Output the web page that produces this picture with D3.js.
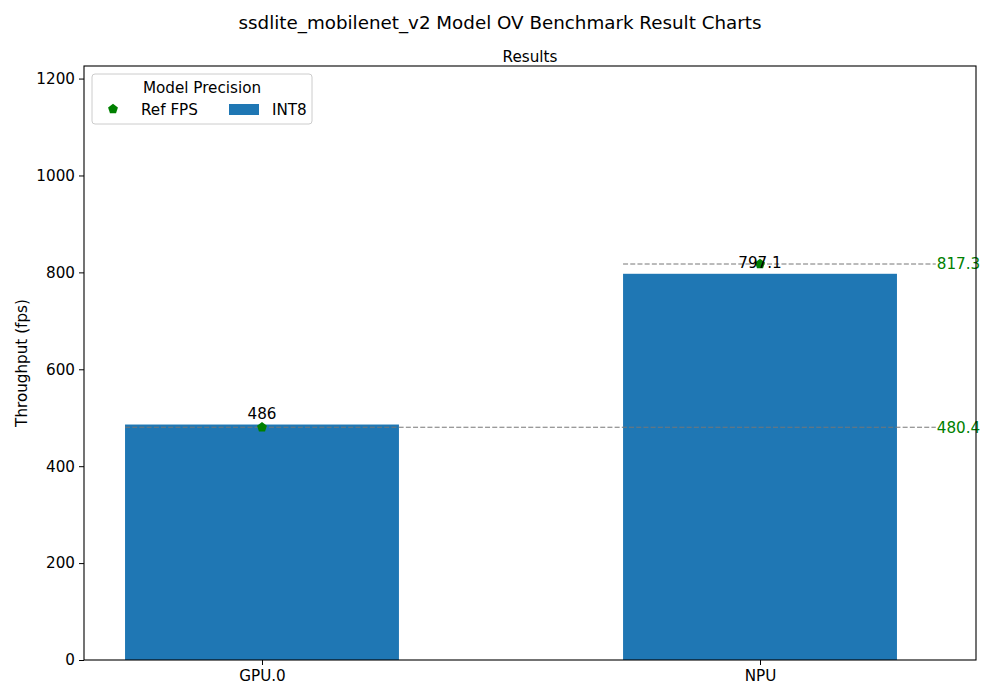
<!DOCTYPE html>
<html>
<head>
<meta charset="utf-8">
<script src="https://cdn.jsdelivr.net/npm/d3@7"></script>
<style>
  body { margin: 0; background: #fff; }
  svg text { font-family: "DejaVu Sans", sans-serif; }
</style>
</head>
<body>
<div class="chart"></div>
<script>
// data
const devices = ['GPU.0', 'NPU'];
const int8Values = [486, 797.1];
const refFps = [480.4, 817.3];
const yTicks = [0, 200, 400, 600, 800, 1000, 1200];

const W = 1000, H = 700;
const margin = ({top: 66, right: 24, bottom: 40, left: 84});
const width = W - margin.left - margin.right;
const height = H - margin.top - margin.bottom;
const fs = '15.2px';

const svg = d3.select('.chart').append('svg')
  .attr('width', W)
  .attr('height', H);

svg.append('text')
  .attr('x', W / 2)
  .attr('y', 29)
  .attr('text-anchor', 'middle')
  .attr('font-size', '18.3px')
  .text('ssdlite_mobilenet_v2 Model OV Benchmark Result Charts');

const g = svg.append('g')
  .attr('transform', `translate(${margin.left},${margin.top})`);

g.append('text')
  .attr('x', width / 2)
  .attr('y', -4)
  .attr('text-anchor', 'middle')
  .attr('font-size', fs)
  .text('Results');

// category positions 0,1 on a linear scale, like matplotlib
const xScale = d3.scaleLinear()
  .domain([-0.3574, 1.4337])
  .range([0, width]);

const yScale = d3.scaleLinear()
  .domain([0, d3.max(refFps) * 1.5])
  .range([height, 0]);

const barW = 0.55;

g.selectAll('.bar')
  .data(int8Values)
  .enter()
  .append('rect')
  .attr('class', 'bar')
  .attr('x', (d, i) => xScale(i - barW / 2))
  .attr('width', xScale(barW) - xScale(0))
  .attr('y', d => yScale(d))
  .attr('height', d => yScale(0) - yScale(d))
  .attr('fill', '#1f77b4');

// reference lines
const lineEnd = 1.353;
g.selectAll('.ref-line')
  .data(refFps)
  .enter()
  .append('line')
  .attr('class', 'ref-line')
  .attr('x1', (d, i) => xScale(i - barW / 2))
  .attr('x2', xScale(lineEnd))
  .attr('y1', d => yScale(d))
  .attr('y2', d => yScale(d))
  .attr('stroke', '#777')
  .attr('stroke-width', 1)
  .attr('stroke-dasharray', '5,2.2');

// pentagon markers
const pentagon = d3.symbol().type(d3.symbolPentagon || {
  draw(ctx, size) {
    const r = Math.sqrt(size / 1.72);
    for (let k = 0; k < 5; k++) {
      const a = -Math.PI / 2 + k * 2 * Math.PI / 5;
      k ? ctx.lineTo(r * Math.cos(a), r * Math.sin(a)) : ctx.moveTo(r * Math.cos(a), r * Math.sin(a));
    }
    ctx.closePath();
  }
}).size(46);

g.selectAll('.ref-marker')
  .data(refFps)
  .enter()
  .append('path')
  .attr('class', 'ref-marker')
  .attr('d', pentagon)
  .attr('transform', (d, i) => `translate(${xScale(i)},${yScale(d)})`)
  .attr('fill', 'green');

g.selectAll('.ref-label')
  .data(refFps)
  .enter()
  .append('text')
  .attr('class', 'ref-label')
  .attr('x', xScale(lineEnd) + 1)
  .attr('y', d => yScale(d))
  .attr('dy', '0.36em')
  .attr('font-size', fs)
  .attr('fill', 'green')
  .text(d => d);

// bar value labels
g.selectAll('.bar-label')
  .data(int8Values)
  .enter()
  .append('text')
  .attr('class', 'bar-label')
  .attr('x', (d, i) => xScale(i))
  .attr('y', d => yScale(d) - 6)
  .attr('text-anchor', 'middle')
  .attr('font-size', fs)
  .text(d => d);

// axes
const xAxis = d3.axisBottom(xScale)
  .tickValues(devices.map((d, i) => i))
  .tickFormat(i => devices[i])
  .tickSizeOuter(0)
  .tickSize(5)
  .tickPadding(5.5);

const yAxis = d3.axisLeft(yScale)
  .tickValues(yTicks)
  .tickFormat(d3.format('d'))
  .tickSizeOuter(0)
  .tickSize(5)
  .tickPadding(4);

g.append('g')
  .attr('class', 'axis x-axis')
  .attr('transform', `translate(0,${height})`)
  .call(xAxis);

g.append('g')
  .attr('class', 'axis y-axis')
  .call(yAxis);

g.selectAll('.axis text')
  .attr('font-size', fs)
  .attr('font-family', '"DejaVu Sans", sans-serif')
  .attr('fill', '#000');
g.selectAll('.axis .domain').remove();

// frame
g.append('rect')
  .attr('width', width)
  .attr('height', height)
  .attr('fill', 'none')
  .attr('stroke', '#000')
  .attr('stroke-width', 1.1);

g.append('text')
  .attr('transform', `translate(${22 - margin.left},${height / 2}) rotate(-90)`)
  .attr('text-anchor', 'middle')
  .attr('dy', '0.35em')
  .attr('font-size', fs)
  .text('Throughput (fps)');

// legend
const legend = g.append('g')
  .attr('transform', 'translate(8,8)');

legend.append('rect')
  .attr('width', 220)
  .attr('height', 50)
  .attr('rx', 3)
  .attr('fill', '#fff')
  .attr('fill-opacity', 0.8)
  .attr('stroke', '#ccc');

legend.append('text')
  .attr('x', 110)
  .attr('y', 19)
  .attr('text-anchor', 'middle')
  .attr('font-size', fs)
  .text('Model Precision');

legend.append('path')
  .attr('d', pentagon)
  .attr('transform', 'translate(21,35)')
  .attr('fill', 'green');

legend.append('text')
  .attr('x', 49)
  .attr('y', 41)
  .attr('font-size', fs)
  .text('Ref FPS');

legend.append('rect')
  .attr('x', 137)
  .attr('y', 30)
  .attr('width', 30)
  .attr('height', 11)
  .attr('fill', '#1f77b4');

legend.append('text')
  .attr('x', 180)
  .attr('y', 41)
  .attr('font-size', fs)
  .text('INT8');
</script>
</body>
</html>
